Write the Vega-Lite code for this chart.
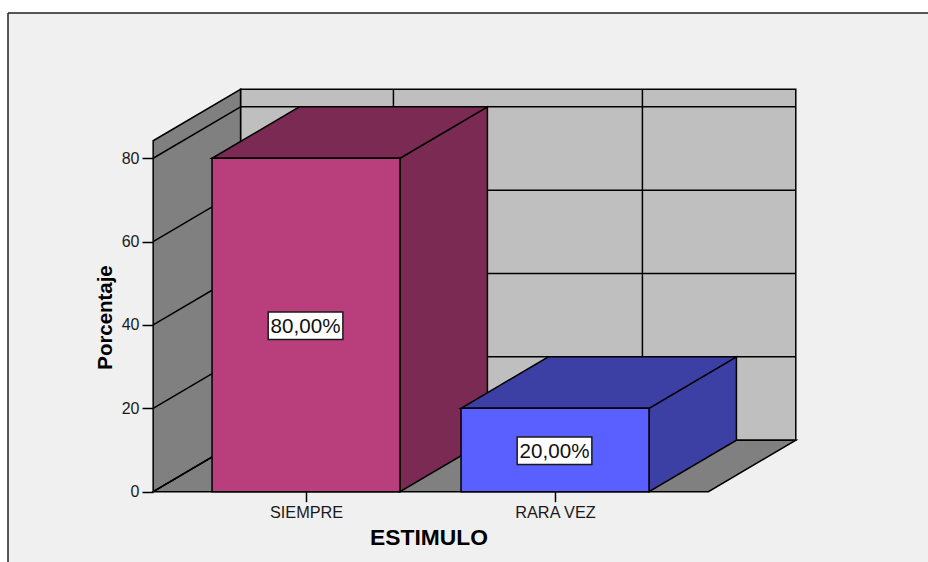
{
"$schema":"https://vega.github.io/schema/vega-lite/v6.json",
"autosize":{"type":"none"},
"padding":{"left":8,"top":13,"right":0,"bottom":0},
"width":920,"height":549,
"background":"#ffffff",
"view":{"fill":"#f0f0f0","stroke":null},
"datasets":{
"barras":[{"estimulo":"SIEMPRE","orden":0,"porcentaje":80,"etiqueta":"80,00%"},{"estimulo":"RARA VEZ","orden":1,"porcentaje":20,"etiqueta":"20,00%"}],
"ejeY":[{"v":0},{"v":20},{"v":40},{"v":60},{"v":80}],
"ejeX":[{"c":0},{"c":1}],
"fondo":[{"px":-0.263,"px2":1.967,"py":12.35,"py2":96.55}],
"suelo":[{"px":-0.614,"py":0,"py2":0},{"px":-0.263,"py":12.35,"py2":0},{"px":1.616,"py":12.35,"py2":0},{"px":1.967,"py":12.35,"py2":12.35}],
"pared":[{"px":-0.614,"py":84.2,"py2":0},{"px":-0.263,"py":96.55,"py2":12.35}],
"marco":[{"px":-1.197,"px2":2.498,"py":114.85,"py2":114.85},{"px":-1.197,"px2":-1.197,"py":114.85,"py2":-16.87}]
},
"encoding":{
"x":{"field":"px","type":"quantitative","scale":{"domain":[-1.197,2.498],"nice":false,"zero":false},
"axis":{"values":[0,1],"offset":-70.3,"orient":"bottom","grid":false,"domain":false,"tickSize":10,"tickWidth":1.5,"tickColor":"#000000","labelExpr":"datum.value==0?'SIEMPRE':'RARA VEZ'","labelFont":"Liberation Sans","labelFontSize":16.3,"labelColor":"#1a1a1a","labelPadding":3,"labelFlush":false,"labelOverlap":false,"encoding":{"labels":{"update":{"dx":{"signal":"datum.value==0?4:-1"}}}},"title":"ESTIMULO","titleFont":"Liberation Sans","titleFontSize":22.8,"titleFontWeight":"bold","titleColor":"#000000","titleX":420.5,"titleY":58,"titleBaseline":"bottom"}},
"y":{"field":"py","type":"quantitative","stack":null,"scale":{"domain":[-16.87,114.85],"nice":false,"zero":false},
"axis":{"values":[0,20,40,60,80],"offset":-145,"orient":"left","grid":false,"domain":false,"tickSize":11,"tickWidth":1.5,"tickColor":"#000000","labelFont":"Liberation Sans","labelFontSize":16,"labelColor":"#1a1a1a","labelPadding":3,"labelFlush":false,"title":"Porcentaje","titleFont":"Liberation Sans","titleFontSize":20.4,"titleFontWeight":"bold","titleColor":"#000000","titleX":-38,"titleY":304,"titleAngle":-90,"titleBaseline":"bottom"}}
},
"resolve":{"scale":{"color":"independent"}},
"layer":[
{"data":{"name":"marco"},"mark":{"type":"rule","stroke":"#222222","strokeWidth":1.5},"encoding":{"x2":{"field":"px2"},"y2":{"field":"py2"}}},
{"data":{"name":"fondo"},"mark":{"type":"rect","fill":"#bfbfbf","stroke":"#000000","strokeWidth":1.5},"encoding":{"x2":{"field":"px2"},"y2":{"field":"py2"}}},
{"data":{"name":"ejeY"},"transform":[{"filter":"datum.v>0"},{"calculate":"-0.263","as":"px"},{"calculate":"1.967","as":"px2"},{"calculate":"datum.v+12.35","as":"py"},{"calculate":"datum.v+12.35","as":"py2"}],"mark":{"type":"rule","stroke":"#000000","strokeWidth":1.5},"encoding":{"x2":{"field":"px2"},"y2":{"field":"py2"}}},
{"data":{"name":"ejeX"},"transform":[{"calculate":"datum.c+0.351","as":"px"},{"calculate":"datum.c+0.351","as":"px2"},{"calculate":"12.35","as":"py"},{"calculate":"96.55","as":"py2"}],"mark":{"type":"rule","stroke":"#000000","strokeWidth":1.5},"encoding":{"x2":{"field":"px2"},"y2":{"field":"py2"}}},
{"data":{"name":"suelo"},"mark":{"type":"area","fill":"#808080","stroke":"#000000","strokeWidth":1.5},"encoding":{"y2":{"field":"py2"}}},
{"data":{"name":"pared"},"mark":{"type":"area","fill":"#808080","stroke":"#000000","strokeWidth":1.5},"encoding":{"y2":{"field":"py2"}}},
{"data":{"name":"ejeY"},"transform":[{"calculate":"-0.614","as":"px"},{"calculate":"-0.263","as":"px2"},{"calculate":"datum.v","as":"py"},{"calculate":"datum.v+12.35","as":"py2"}],"mark":{"type":"rule","stroke":"#000000","strokeWidth":1.5},"encoding":{"x2":{"field":"px2"},"y2":{"field":"py2"}}},
{"data":{"name":"barras"},"transform":[{"calculate":"[0,1]","as":"t"},{"flatten":["t"]},{"calculate":"datum.orden+0.3775+datum.t*0.351","as":"px"},{"calculate":"datum.porcentaje+datum.t*12.35","as":"py"},{"calculate":"datum.t*12.35","as":"py2"}],"mark":{"type":"area","stroke":"#000000","strokeWidth":1.5},"encoding":{"y2":{"field":"py2"},"color":{"field":"estimulo","type":"nominal","legend":null,"scale":{"domain":["SIEMPRE","RARA VEZ"],"range":["#7b2a53","#3c3fa3"]}}}},
{"data":{"name":"barras"},"transform":[{"calculate":"[0,1,2,3]","as":"t"},{"flatten":["t"]},{"calculate":"datum.orden-0.3775+[0,0.351,0.755,1.106][datum.t]","as":"px"},{"calculate":"datum.porcentaje+[0,12.35,12.35,12.35][datum.t]","as":"py"},{"calculate":"datum.porcentaje+[0,0,0,12.35][datum.t]","as":"py2"}],"mark":{"type":"area","stroke":"#000000","strokeWidth":1.5},"encoding":{"y2":{"field":"py2"},"color":{"field":"estimulo","type":"nominal","legend":null,"scale":{"domain":["SIEMPRE","RARA VEZ"],"range":["#7b2a53","#3c3fa3"]}}}},
{"data":{"name":"barras"},"transform":[{"calculate":"datum.orden-0.3775","as":"px"},{"calculate":"datum.orden+0.3775","as":"px2"},{"calculate":"datum.porcentaje","as":"py"},{"calculate":"0","as":"py2"}],"mark":{"type":"rect","stroke":"#000000","strokeWidth":1.5},"encoding":{"x2":{"field":"px2"},"y2":{"field":"py2"},"color":{"field":"estimulo","type":"nominal","legend":null,"scale":{"domain":["SIEMPRE","RARA VEZ"],"range":["#b93e7c","#5a5fff"]}}}},
{"data":{"name":"barras"},"transform":[{"calculate":"datum.orden-0.152","as":"px"},{"calculate":"datum.orden+0.148","as":"px2"},{"calculate":"datum.porcentaje/2+3.1","as":"py"},{"calculate":"datum.porcentaje/2-3.5","as":"py2"}],"mark":{"type":"rect","fill":"#ffffff","stroke":"#1a1a1a","strokeWidth":1.5},"encoding":{"x2":{"field":"px2"},"y2":{"field":"py2"}}},
{"data":{"name":"barras"},"transform":[{"calculate":"datum.orden-0.002","as":"px"},{"calculate":"datum.porcentaje/2-0.5","as":"py"}],"mark":{"type":"text","font":"Liberation Sans","fontSize":20.6,"color":"#111111","baseline":"middle","align":"center"},"encoding":{"text":{"field":"etiqueta"}}}
]
}
